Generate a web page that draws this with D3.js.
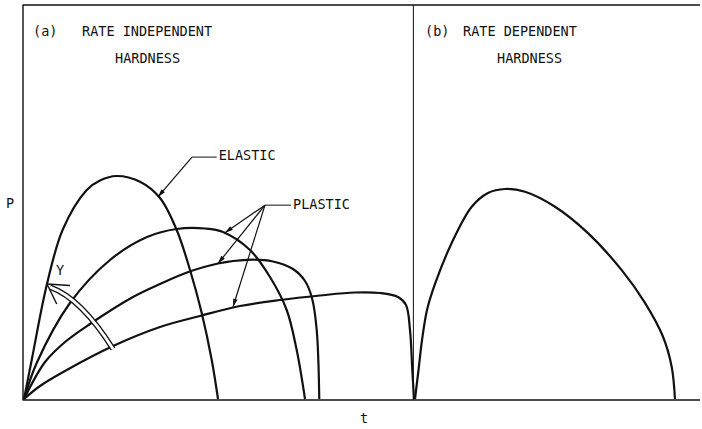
<!DOCTYPE html>
<html>
<head>
<meta charset="utf-8">
<script src="https://cdn.jsdelivr.net/npm/d3@7/dist/d3.min.js"></script>
<style>
  html, body { margin: 0; padding: 0; background: #fff; }
  svg { display: block; }
  text { font-family: "DejaVu Sans Mono", "Liberation Mono", monospace; font-size: 13.5px; fill: #111; }
</style>
</head>
<body>
<svg id="chart" width="702" height="429"></svg>
<script>
// Load P versus time t, arbitrary units (t: 0..100, P: 0..100)
const elastic = [
  [0, 0], [1.14, 9.90], [3.40, 29.19], [5.77, 43.15], [9.28, 53.05], [11.24, 55.46],
  [13.71, 56.60], [17.16, 55.15], [20.12, 51.02], [22.59, 42.89], [24.56, 32.74],
  [26.29, 21.83], [27.77, 9.90], [28.70, 0]
];
const plastic1 = [
  [0, 0], [1.88, 9.14], [6.80, 24.37], [12.72, 35.28], [18.20, 41.12], [22.59, 43.15],
  [26.78, 43.27], [29.44, 42.39], [33.43, 37.82], [36.39, 30.96], [38.86, 22.59],
  [40.34, 12.44], [41.57, 0]
];
const plastic2 = [
  [0, 0], [3.11, 9.39], [6.07, 14.47], [9.76, 19.04], [16.12, 25.89], [20.12, 29.19],
  [24.11, 32.11], [28.70, 34.39], [32.99, 35.33], [36.83, 34.90], [39.79, 32.99],
  [41.57, 29.95], [42.60, 25.63], [43.30, 17.51], [43.68, 0]
];
const plastic3 = [
  [0, 0], [2.37, 3.30], [6.32, 7.36], [13.17, 13.45], [20.12, 18.27], [26.04, 21.07],
  [31.95, 23.60], [37.87, 25.13], [43.79, 26.27], [48.96, 27.03], [52.66, 26.90],
  [55.33, 25.89], [56.51, 23.86], [57.10, 17.51], [57.44, 7.36], [57.69, 0]
];
const rateDependent = [
  [57.84, 0], [58.36, 7.36], [58.88, 14.97], [59.62, 22.59], [60.80, 29.19], [63.27, 39.6],
  [66.23, 48.8], [68.64, 52.3], [71.15, 53.3], [74.11, 52.6], [78.55, 48.8], [83.43, 42.1],
  [88.42, 32.7], [91.86, 24.4], [94.53, 15.8], [95.81, 8.2], [96.30, 0]
];
const panelDivider = 57.6;

// Annotations (data units): label, text anchor point, elbow point, arrow tips
const elasticNote = { label: "ELASTIC", text: [28.8, 60.7], elbow: [24.85, 61.4], tips: [[19.82, 51.3]] };
const plasticNote = { label: "PLASTIC", text: [39.8, 48.2], elbow: [35.65, 49.2],
  tips: [[29.73, 42.2], [28.70, 34.4], [30.92, 23.4]] };
const yieldArc = { label: "Y", labelAt: [5.33, 31.5], start: [3.85, 28.4], ctrl: [8.43, 25.6], end: [13.17, 12.7],
  tip: [3.40, 29.2], arms: [[6.80, 28.8], [4.84, 24.1]] };

const titlesA = [["(a)", 33, 36], ["RATE INDEPENDENT", 82, 36], ["HARDNESS", 115, 63]];
const titlesB = [["(b)", 425, 36], ["RATE DEPENDENT", 463, 36], ["HARDNESS", 497, 63]];

const svg = d3.select("#chart");
const x = d3.scaleLinear().domain([0, 100]).range([24, 700]);
const y = d3.scaleLinear().domain([0, 100]).range([399, 5]);

// Frame: left axis, top, bottom (t axis), panel divider
const frame = svg.append("g").attr("stroke", "#111").attr("fill", "none");
frame.append("line").attr("x1", x(0) - 1).attr("x2", x(0) - 1).attr("y1", y(100)).attr("y2", y(0) + 1).attr("stroke-width", 1.4);
frame.append("line").attr("x1", x(0) - 1.5).attr("x2", x(100)).attr("y1", y(100)).attr("y2", y(100)).attr("stroke-width", 1.4);
frame.append("line").attr("x1", x(0) - 1.5).attr("x2", x(100)).attr("y1", y(0) + 1).attr("y2", y(0) + 1).attr("stroke-width", 1.4);
frame.append("line").attr("x1", x(panelDivider)).attr("x2", x(panelDivider)).attr("y1", y(100)).attr("y2", y(0) + 1).attr("stroke-width", 1);

// Curves
const line = d3.line().x(d => x(d[0])).y(d => y(d[1])).curve(d3.curveCatmullRom.alpha(0.5));
svg.append("g").attr("fill", "none").attr("stroke", "#111").attr("stroke-width", 2.2)
  .attr("stroke-linejoin", "round")
  .selectAll("path").data([elastic, plastic1, plastic2, plastic3, rateDependent]).join("path")
  .attr("d", line);

// Arrowhead helper: filled narrow triangle pointing from (fx,fy) toward (tx,ty)
function arrowHead(g, fx, fy, tx, ty, len = 8, half = 2.3) {
  const a = Math.atan2(ty - fy, tx - fx);
  const bx = tx - len * Math.cos(a), by = ty - len * Math.sin(a);
  const px = -Math.sin(a) * half, py = Math.cos(a) * half;
  g.append("path").attr("d", `M${tx},${ty}L${bx + px},${by + py}L${bx - px},${by - py}Z`)
    .attr("fill", "#111").attr("stroke", "none");
}

function drawNote(note) {
  const g = svg.append("g").attr("stroke", "#111").attr("fill", "none");
  const ex = x(note.elbow[0]), ey = y(note.elbow[1]);
  g.append("line").attr("x1", ex).attr("y1", ey).attr("x2", x(note.text[0]) - 2).attr("y2", ey).attr("stroke-width", 1);
  note.tips.forEach(t => {
    const tx = x(t[0]), ty = y(t[1]);
    g.append("line").attr("x1", ex).attr("y1", ey).attr("x2", tx).attr("y2", ty).attr("stroke-width", 1.2);
    arrowHead(g, ex, ey, tx, ty);
  });
  svg.append("text").attr("x", x(note.text[0])).attr("y", y(note.text[1])).text(note.label);
}
drawNote(elasticNote);
drawNote(plasticNote);

// Hollow curved arrow marking the yield direction
const arcPath = d3.path();
arcPath.moveTo(x(yieldArc.start[0]), y(yieldArc.start[1]));
arcPath.quadraticCurveTo(x(yieldArc.ctrl[0]), y(yieldArc.ctrl[1]), x(yieldArc.end[0]), y(yieldArc.end[1]));
svg.append("path").attr("d", arcPath.toString()).attr("fill", "none").attr("stroke", "#111").attr("stroke-width", 5.4);
svg.append("path").attr("d", arcPath.toString()).attr("fill", "none").attr("stroke", "#fff").attr("stroke-width", 2.8);
const yg = svg.append("g").attr("stroke", "#111").attr("stroke-width", 1.4).attr("fill", "none");
yieldArc.arms.forEach(a => {
  yg.append("line").attr("x1", x(yieldArc.tip[0])).attr("y1", y(yieldArc.tip[1])).attr("x2", x(a[0])).attr("y2", y(a[1]));
});
svg.append("text").attr("x", x(yieldArc.labelAt[0])).attr("y", y(yieldArc.labelAt[1])).attr("text-anchor", "middle").text(yieldArc.label);

// Panel titles
svg.append("g").selectAll("text").data(titlesA.concat(titlesB)).join("text")
  .attr("x", d => d[1]).attr("y", d => d[2]).text(d => d[0]);

// Axis labels
svg.append("text").attr("x", 10).attr("y", 208).attr("text-anchor", "middle").text("P");
svg.append("text").attr("x", 364).attr("y", 423).attr("text-anchor", "middle").text("t");
</script>
</body>
</html>
